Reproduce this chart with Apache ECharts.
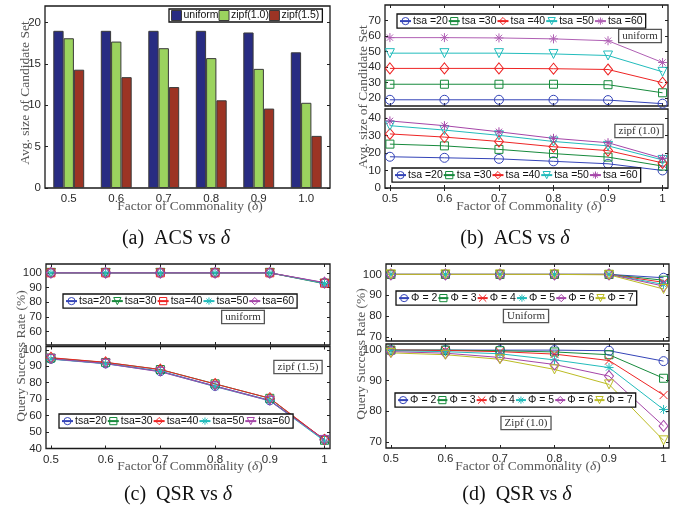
<!DOCTYPE html>
<html><head><meta charset="utf-8">
<script src="https://cdn.jsdelivr.net/npm/echarts@6/dist/echarts.min.js"></script>
<style>html,body{margin:0;padding:0;background:#fff}#c{width:676px;height:512px}</style>
</head><body><div id="c"></div>
<script>
// ---------- DATA ----------
const deltaLabels = ['0.5','0.6','0.7','0.8','0.9','1.0'];
const deltas = [0.5, 0.6, 0.7, 0.8, 0.9, 1.0];
const lineTickLabels = ['0.5','0.6','0.7','0.8','0.9','1'];

// (a) ACS vs delta (bars)
const acsUniform = [19.0, 19.0, 19.0, 19.0, 18.8, 16.4];
const acsZipf10  = [18.1, 17.7, 16.9, 15.7, 14.4, 10.3];
const acsZipf15  = [14.3, 13.4, 12.2, 10.6, 9.6, 6.3];

// (b) ACS vs delta, uniform
const bUniTsa20 = [19.0, 19.0, 19.0, 19.0, 18.8, 16.5];
const bUniTsa30 = [29.0, 29.0, 29.0, 29.0, 28.7, 23.5];
const bUniTsa40 = [39.2, 39.2, 39.2, 39.0, 38.5, 30.0];
const bUniTsa50 = [49.0, 49.0, 49.0, 48.5, 47.5, 37.0];
const bUniTsa60 = [59.0, 59.0, 58.8, 58.2, 57.0, 43.0];
// (b) ACS vs delta, zipf(1.0)
const bZipfTsa20 = [17.8, 17.2, 16.6, 15.2, 13.8, 10.0];
const bZipfTsa30 = [25.0, 24.0, 22.0, 19.6, 17.6, 12.5];
const bZipfTsa40 = [30.8, 29.0, 26.5, 23.5, 21.3, 14.3];
const bZipfTsa50 = [35.5, 33.0, 30.0, 26.5, 24.0, 16.0];
const bZipfTsa60 = [38.2, 35.5, 32.0, 28.3, 25.8, 16.9];

// (c) QSR vs delta, uniform
const cUniTsa20 = [100, 100, 100, 100, 100, 93.2];
const cUniTsa30 = [100, 100, 100, 100, 100, 92.6];
const cUniTsa40 = [100, 100, 100, 100, 100, 93.0];
const cUniTsa50 = [100, 100, 100, 100, 100, 92.8];
const cUniTsa60 = [100, 100, 100, 100, 100, 93.4];
// (c) QSR vs delta, zipf(1.5)
const cZipfTsa20 = [94.5, 91.7, 87.0, 78.0, 69.3, 45.5];
const cZipfTsa30 = [95.0, 92.3, 88.0, 79.3, 70.5, 45.0];
const cZipfTsa40 = [95.2, 92.4, 88.0, 79.2, 70.6, 45.3];
const cZipfTsa50 = [94.3, 91.5, 86.8, 77.6, 69.0, 44.5];
const cZipfTsa60 = [94.5, 91.6, 86.6, 77.8, 69.0, 45.2];

// (d) QSR vs delta, Uniform
const dUniPhi2 = [100, 100, 100, 100, 100, 98.4];
const dUniPhi3 = [100, 100, 100, 100, 100, 97.2];
const dUniPhi4 = [100, 100, 100, 100, 100, 96.2];
const dUniPhi5 = [100, 100, 100, 100, 100, 95.2];
const dUniPhi6 = [100, 100, 100, 100, 100, 94.4];
const dUniPhi7 = [100, 100, 100, 100, 99.8, 93.0];
// (d) QSR vs delta, Zipf(1.0)
const dZipfPhi2 = [100, 100, 100, 100, 99.8, 96.4];
const dZipfPhi3 = [100, 100, 99.8, 99.4, 98.5, 90.8];
const dZipfPhi4 = [100, 99.9, 99.5, 98.7, 96.6, 85.3];
const dZipfPhi5 = [99.8, 99.5, 98.8, 96.8, 94.3, 80.6];
const dZipfPhi6 = [99.5, 99.0, 97.6, 95.3, 91.5, 75.2];
const dZipfPhi7 = [99.1, 98.5, 97.0, 93.7, 88.8, 70.5];

const tsaNamesB = ['tsa =20','tsa =30','tsa =40','tsa =50','tsa =60'];
const tsaNamesC = ['tsa=20','tsa=30','tsa=40','tsa=50','tsa=60'];
const phiNames  = ['\u03A6 = 2','\u03A6 = 3','\u03A6 = 4','\u03A6 = 5','\u03A6 = 6','\u03A6 = 7'];
const barNames  = ['uniform','zipf(1.0)','zipf(1.5)'];

// ---------- STYLE ----------
const SANS = '"Liberation Sans", Arial, Helvetica, sans-serif';
const SERIF = '"Liberation Serif", "Times New Roman", serif';
const C = {blue:'#3444b8', green:'#178a3c', red:'#ee2424', cyan:'#22bcbc', mag:'#a545a8', yel:'#bcbc24', lmag:'#b060b4'};
const SYM = {
  circle:  {symbol:'circle', size:9},
  square:  {symbol:'rect', size:8},
  diamond: {symbol:'diamond', size:[9,11]},
  tri:     {symbol:'triangle', size:9, rotate:180},
  star:    {symbol:'path://M10 0L10 20M0 10L20 10M3 3L17 17M3 17L17 3', size:9},
  cross:   {symbol:'path://M0 0L20 20M0 20L20 0', size:8}
};

const grids = [
  {left:45,  top:6,     width:285, height:182}, // a
  {left:385, top:5,     width:283, height:101}, // b up
  {left:385, top:109,   width:283, height:79},  // b low
  {left:46,  top:264,   width:284, height:81},  // c up
  {left:46,  top:346.5, width:284, height:102}, // c low
  {left:386, top:264,   width:283, height:77},  // d up
  {left:386, top:344,   width:283, height:104}  // d low
].map(g => Object.assign({show:true, backgroundColor:'#fff', borderColor:'#1a1a1a', borderWidth:1.3, containLabel:false}, g));

const xAxes = [], yAxes = [];
const tickStyle = {color:'#222', width:1};
function lblStyle(show, extra){ return Object.assign({show, fontSize:11.5, color:'#2a2a2a', fontFamily:SANS, margin:4}, extra||{}); }

// grid 0: category bars
xAxes.push({gridIndex:0, type:'category', data:deltaLabels, position:'bottom',
  axisLine:{show:false}, axisTick:{show:true, inside:true, length:3, alignWithLabel:true, lineStyle:tickStyle},
  axisLabel:lblStyle(true,{margin:5})});
xAxes.push({gridIndex:0, type:'category', data:deltaLabels, position:'top', show:false});
function addY(gi, min, max, ticks){
  yAxes.push({gridIndex:gi, type:'value', min, max, position:'left', splitLine:{show:false},
    axisLine:{show:false}, axisTick:{show:true, inside:true, length:3, customValues:ticks, lineStyle:tickStyle},
    axisLabel:lblStyle(true,{customValues:ticks})});
  yAxes.push({gridIndex:gi, type:'value', min, max, position:'right', splitLine:{show:false},
    axisLine:{show:false}, axisTick:{show:true, inside:true, length:3, customValues:ticks, lineStyle:tickStyle},
    axisLabel:{show:false}});
}
function addX(gi, showLabels){
  xAxes.push({gridIndex:gi, type:'value', min:0.491, max:1.01, position:'bottom', splitLine:{show:false},
    axisLine:{show:false}, axisTick:{show:true, inside:true, length:3, customValues:deltas, lineStyle:tickStyle},
    axisLabel:lblStyle(showLabels,{customValues:deltas, margin:5, formatter:v => lineTickLabels[Math.round((v-0.5)*10)]})});
  xAxes.push({gridIndex:gi, type:'value', min:0.491, max:1.01, position:'top', splitLine:{show:false},
    axisLine:{show:false}, axisTick:{show:true, inside:true, length:3, customValues:deltas, lineStyle:tickStyle},
    axisLabel:{show:false}});
}
addY(0, 0, 22, [0,5,10,15,20]);
addX(1,false); addY(1, 15, 80, [20,30,40,50,60,70]);
addX(2,true);  addY(2, 0, 45, [0,10,20,30,40]);
addX(3,false); addY(3, 51, 106, [60,70,80,90,100]);
addX(4,true);  addY(4, 40, 102, [40,50,60,70,80,90,100]);
addX(5,false); addY(5, 68, 105, [70,80,90,100]);
addX(6,true);  addY(6, 68, 102, [70,80,90,100]);

const series = [];
const DISPLAY = {};
[[acsUniform,'#282c82'],[acsZipf10,'#9bd35e'],[acsZipf15,'#9c3424']].forEach(([vals,col],i)=>{
  const id = 'a'+i; DISPLAY[id] = barNames[i];
  series.push({type:'bar', name:id, xAxisIndex:0, yAxisIndex:0, data:vals, barWidth:10.3, barGap:'0%',
    itemStyle:{color:col, borderColor:'#3a3a3a', borderWidth:1}, emphasis:{disabled:true}});
});
function addLine(id, label, vals, gi, symKey, color){
  DISPLAY[id] = label;
  const s = SYM[symKey];
  series.push({type:'line', name:id, xAxisIndex:2*gi, yAxisIndex:2*gi,
    data: deltas.map((d,i)=>[d, vals[i]]),
    symbol:s.symbol, symbolSize:s.size, symbolRotate:s.rotate||0,
    itemStyle:{color:'none', borderColor:color, borderWidth:1},
    lineStyle:{color, width:1}, emphasis:{disabled:true}});
}
const bUni = [bUniTsa20,bUniTsa30,bUniTsa40,bUniTsa50,bUniTsa60];
const bZipf = [bZipfTsa20,bZipfTsa30,bZipfTsa40,bZipfTsa50,bZipfTsa60];
const bSym = ['circle','square','diamond','tri','star'];
const bCol = [C.blue,C.green,C.red,C.cyan,C.lmag];
bUni.forEach((v,i)=>addLine('bU'+i, tsaNamesB[i], v, 1, bSym[i], bCol[i]));
bZipf.forEach((v,i)=>addLine('bL'+i, tsaNamesB[i], v, 2, bSym[i], i===4?C.mag:bCol[i]));
const cUni = [cUniTsa20,cUniTsa30,cUniTsa40,cUniTsa50,cUniTsa60];
const cZipf = [cZipfTsa20,cZipfTsa30,cZipfTsa40,cZipfTsa50,cZipfTsa60];
const cColU = [C.blue,C.green,C.red,C.cyan,C.mag];
const cSymU = ['circle','tri','square','star','diamond'];
const cSymL = ['circle','square','diamond','star','tri'];
cUni.forEach((v,i)=>addLine('cU'+i, tsaNamesC[i], v, 3, cSymU[i], cColU[i]));
cZipf.forEach((v,i)=>addLine('cL'+i, tsaNamesC[i], v, 4, cSymL[i], cColU[i]));
const dUni = [dUniPhi2,dUniPhi3,dUniPhi4,dUniPhi5,dUniPhi6,dUniPhi7];
const dZipf = [dZipfPhi2,dZipfPhi3,dZipfPhi4,dZipfPhi5,dZipfPhi6,dZipfPhi7];
const dSym = ['circle','square','cross','star','diamond','tri'];
const dCol = [C.blue,C.green,C.red,C.cyan,C.mag,C.yel];
dUni.forEach((v,i)=>addLine('dU'+i, phiNames[i], v, 5, dSym[i], dCol[i]));
dZipf.forEach((v,i)=>addLine('dL'+i, phiNames[i], v, 6, dSym[i], dCol[i]));

function legend(prefix, n, left, top, fs, iw, icon){
  const data = [];
  for (let i=0;i<n;i++){ const it = {name:prefix+i}; if (icon) it.icon = icon; data.push(it); }
  return {data, left, top, orient:'horizontal', itemGap:0, itemWidth:iw, itemHeight:icon?10:9,
    padding:[1,3,1,2], borderColor:'#111', borderWidth:1.3, backgroundColor:'#fff',
    selectedMode:false, formatter:n2=>DISPLAY[n2],
    itemStyle:{borderWidth:1},
    textStyle:{fontSize:fs, color:'#111', fontFamily:SANS, padding:[0,0,0,-3]}};
}
const legends = [
  legend('a',3,169,9,10.5,10,'rect'),
  legend('bU',5,397,14,10.5,11),
  legend('bL',5,392,168,10.5,11),
  legend('cU',5,63,294,10.5,11),
  legend('cL',5,59,414,10.5,11),
  legend('dU',6,396,291,10.5,10),
  legend('dL',6,395,393,10.5,10)
];

function boxText(x,y,t){
  return {type:'text', x, y, z:100, style:{text:t, fontFamily:SERIF, fontSize:11, fill:'#333',
    align:'center', verticalAlign:'middle', backgroundColor:'#fff', borderColor:'#555', borderWidth:1.3, padding:[1,3,0,3]}};
}
function title(x,y,t,rot,fs){
  const parts = t.split('\u03B4');
  const text = parts.length>1 ? '{n|'+parts[0]+'}{d|\u03B4}{n|'+parts[1]+'}' : '{n|'+t+'}';
  return {type:'text', x, y, rotation:rot||0, z:100, style:{text, align:'center', verticalAlign:'middle',
    rich:{n:{fontFamily:SERIF, fontSize:fs, fill:rot!==undefined&&fs<16?'#555':'#555'},
          d:{fontFamily:SERIF, fontSize:fs, fontStyle:'italic', fill:'#555'}}}};
}
function caption(x,y,t){
  const parts = t.split('\u03B4');
  return {type:'text', x, y, z:100, style:{text:'{n|'+parts[0]+'}{d|\u03B4}', align:'center', verticalAlign:'middle',
    rich:{n:{fontFamily:SERIF, fontSize:20, fill:'#111'}, d:{fontFamily:SERIF, fontSize:20, fontStyle:'italic', fill:'#111'}}}};
}
const graphic = [
  boxText(640,36,'uniform'), boxText(639,131,'zipf (1.0)'),
  boxText(243,317,'uniform'), boxText(298,367,'zipf (1.5)'),
  boxText(526,316,'Uniform'), boxText(526,423,'Zipf (1.0)'),
  title(190,206,'Factor of Commonality (\u03B4)',0,13.5),
  title(529,206,'Factor of Commonality (\u03B4)',0,13.5),
  title(190,466,'Factor of Commonality (\u03B4)',0,13.5),
  title(528,466,'Factor of Commonality (\u03B4)',0,13.5),
  title(25,93,'Avg. size of Candidate Set',Math.PI/2,13.5),
  title(363,97,'Avg. size of Candidate Set',Math.PI/2,13.5),
  title(21,356,'Query Success Rate (%)',Math.PI/2,13.5),
  title(361,354,'Query Success Rate (%)',Math.PI/2,13.5),
  caption(176,239,'(a)  ACS vs \u03B4'),
  caption(515,239,'(b)  ACS vs \u03B4'),
  caption(178,495,'(c)  QSR vs \u03B4'),
  caption(517,495,'(d)  QSR vs \u03B4')
];

const chart = echarts.init(document.getElementById('c'), null, {renderer:'canvas'});
chart.setOption({animation:false, backgroundColor:'#fff', grid:grids, xAxis:xAxes, yAxis:yAxes,
  series, legend:legends, graphic, tooltip:{show:false}});
</script></body></html>
